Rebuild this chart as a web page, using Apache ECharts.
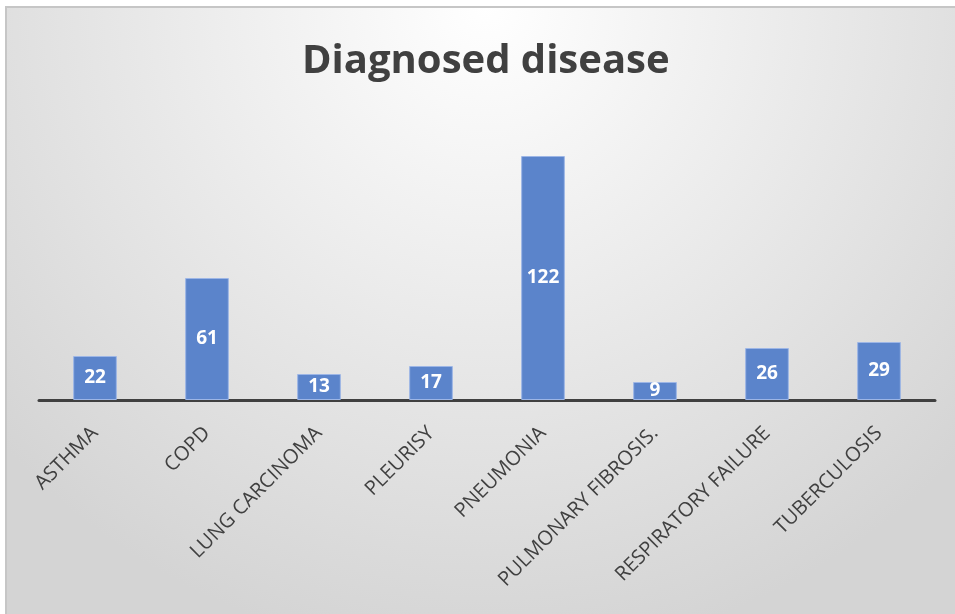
<!DOCTYPE html>
<html>
<head>
<meta charset="utf-8">
<script src="https://cdn.jsdelivr.net/npm/echarts@6/dist/echarts.min.js"></script>
<style>
html,body{margin:0;padding:0;background:#fff;}
#chart{width:955px;height:614px;}
</style>
</head>
<body>
<div id="chart"></div>
<script>
const categories = ['ASTHMA','COPD','LUNG CARCINOMA','PLEURISY','PNEUMONIA','PULMONARY FIBROSIS.','RESPIRATORY FAILURE','TUBERCULOSIS'];
const values = [22, 61, 13, 17, 122, 9, 26, 29];
const titleText = 'Diagnosed disease';

const chart = echarts.init(document.getElementById('chart'), null, {renderer:'canvas'});
chart.setOption({
  backgroundColor: '#ffffff',
  animation: false,
  graphic: [{
    type: 'rect',
    z: -10,
    shape: {x: 6, y: 7, width: 960, height: 620},
    style: {
      fill: {
        type: 'radial', x: 0.5, y: 0, r: 1.05,
        colorStops: [{offset: 0, color: '#ffffff'}, {offset: 1, color: '#d4d4d4'}]
      },
      stroke: '#c6c6c6', lineWidth: 2
    }
  }],
  title: {
    text: titleText,
    left: 297,
    top: 37,
    textStyle: {fontFamily: 'Open Sans', fontWeight: 'bold', fontSize: 40, color: '#404040'}
  },
  grid: {left: 39, right: 20, top: 100, bottom: 214, containLabel: false},
  xAxis: {
    type: 'category',
    data: categories,
    axisLine: {lineStyle: {color: '#404040', width: 3}},
    axisTick: {show: false},
    axisLabel: {
      rotate: 45, interval: 0, margin: 30,
      fontFamily: 'Open Sans', fontSize: 20, color: '#404040'
    }
  },
  yAxis: {type: 'value', min: 0, max: 150, show: false, splitLine: {show: false}},
  series: [{
    type: 'bar',
    data: values,
    barWidth: '39%',
    itemStyle: {color: '#5b84cb', borderColor: '#9db6e6', borderWidth: 1},
    label: {
      show: true, position: 'inside',
      fontFamily: 'Open Sans', fontWeight: 'bold', fontSize: 19, color: '#ffffff'
    }
  }]
});
</script>
</body>
</html>
